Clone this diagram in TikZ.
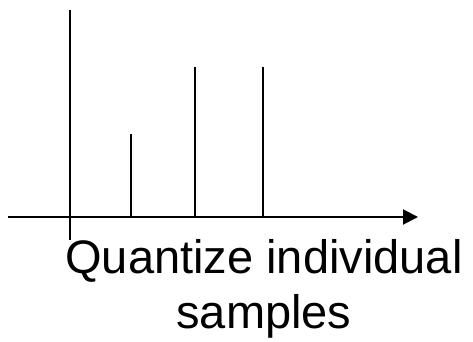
\documentclass[tikz,border=0pt]{standalone}
\usepackage{fontspec}
\setmainfont{Liberation Sans}
\usetikzlibrary{arrows.meta}
\begin{document}
\begin{tikzpicture}[x=1pt,y=1pt]
		% Styles
		\tikzstyle{axe}=[line width=2pt]
		\tikzstyle{fleche}=[line width=2pt,-{Triangle[length=15pt,width=15pt]}]
		\tikzstyle{echantillon}=[line width=1.6pt]
		\tikzstyle{legende}=[inner sep=0pt,align=center,font=\fontsize{47}{55}\selectfont]
		% Dimensions
		\def\NiveauAxe{125}
		\useasboundingbox (0,0) rectangle (473,342);
		% Axes
		\coordinate (O1) at (8,\NiveauAxe);
		\coordinate (O2) at (418,\NiveauAxe);
		\coordinate (V1) at (70,102);
		\coordinate (V2) at (70,332);
		\draw[axe] (V1)--(V2);
		\draw[fleche] (O1)--(O2);
		% Echantillons
		\coordinate (Ea) at (131,208);
		\coordinate (Eb) at (195,275);
		\coordinate (Ec) at (263,275);
		\foreach \e in {Ea,Eb,Ec}
			\draw[echantillon] (\e)--(\e |- O1);
		% Legende
		\node[legende,anchor=north] (titre) at (264,103) {Quantize individual\\samples};
	\end{tikzpicture}
\end{document}
